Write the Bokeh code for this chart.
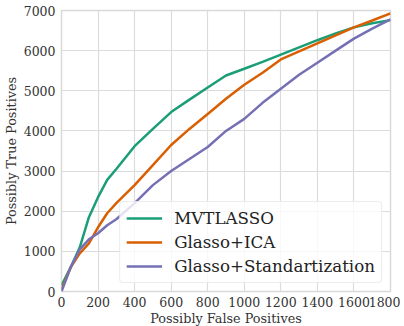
from bokeh.plotting import figure
from bokeh.models import Range1d, FixedTicker, Legend, LegendItem
from bokeh.embed import file_html
from bokeh.resources import INLINE

x_vals = [0, 50, 100, 150, 200, 250, 300, 400, 500, 600, 700, 800, 900, 1000,
          1100, 1200, 1300, 1400, 1500, 1600, 1700, 1800]
mvtlasso = [150, 600, 1100, 1850, 2350, 2780, 3050, 3620, 4050, 4470, 4780, 5080,
            5380, 5550, 5720, 5900, 6080, 6260, 6430, 6580, 6680, 6760]
glasso_ica = [50, 600, 950, 1200, 1600, 1950, 2200, 2650, 3150, 3650, 4050, 4420,
              4800, 5150, 5450, 5780, 5980, 6180, 6380, 6580, 6750, 6930]
glasso_std = [0, 600, 1050, 1300, 1450, 1650, 1800, 2200, 2650, 3000, 3300, 3600,
              4000, 4300, 4700, 5050, 5400, 5700, 6000, 6300, 6550, 6780]
series_names = ["MVTLASSO", "Glasso+ICA", "Glasso+Standartization"]
colors = ["#1b9e77", "#d95f02", "#7570b3"]
x_ticks = [0, 200, 400, 600, 800, 1000, 1200, 1400, 1600, 1800]
y_ticks = [0, 1000, 2000, 3000, 4000, 5000, 6000, 7000]

FONT = "DejaVu Serif"

p = figure(width=400, height=328, output_backend="svg", toolbar_location=None,
           x_range=Range1d(0, 1800), y_range=Range1d(0, 7000),
           min_border_top=10, min_border_right=10, min_border_left=0, min_border_bottom=0)

p.background_fill_color = "white"
p.outline_line_color = "#d9d9d9"
p.outline_line_width = 1.5

for ax in (p.xaxis[0], p.yaxis[0]):
    ax.axis_line_color = None
    ax.major_tick_line_color = None
    ax.minor_tick_line_color = None
    ax.major_tick_out = 0
    ax.major_tick_in = 0
    ax.minor_tick_out = 0
    ax.minor_tick_in = 0
    ax.major_label_text_font = FONT
    ax.major_label_text_font_size = "12.5px"
    ax.major_label_text_color = "#333333"
    ax.axis_label_text_font = FONT
    ax.axis_label_text_font_size = "12.8px"
    ax.axis_label_text_font_style = "normal"
    ax.axis_label_text_color = "#333333"
    ax.major_label_standoff = 6
    ax.axis_label_standoff = 2

p.xaxis[0].major_label_standoff = 5
p.xaxis[0].axis_label_standoff = 1

p.xaxis.ticker = FixedTicker(ticks=x_ticks)
p.yaxis.ticker = FixedTicker(ticks=y_ticks)
p.xaxis.axis_label = "Possibly False Positives"
p.yaxis.axis_label = "Possibly True Positives"

p.xgrid.grid_line_color = "#dcdcdc"
p.ygrid.grid_line_color = "#dcdcdc"
p.xgrid.grid_line_width = 1.2
p.ygrid.grid_line_width = 1.2

items = []
for name, ys, c in zip(series_names, [mvtlasso, glasso_ica, glasso_std], colors):
    r = p.line(x_vals, ys, line_color=c, line_width=2.5)
    items.append(LegendItem(label=name, renderers=[r]))

legend = Legend(items=items, location="bottom_right")
legend.label_text_font = FONT
legend.label_text_font_size = "16.7px"
legend.label_text_color = "#222222"
legend.label_height = 20
legend.label_standoff = 12
legend.border_line_color = "#d9d9d9"
legend.border_line_width = 1
legend.border_radius = 4
legend.background_fill_alpha = 0.8
legend.glyph_width = 36
legend.spacing = 4
legend.padding = 6
legend.margin = 8
p.add_layout(legend)

open("out.html", "w").write(file_html(p, INLINE))
